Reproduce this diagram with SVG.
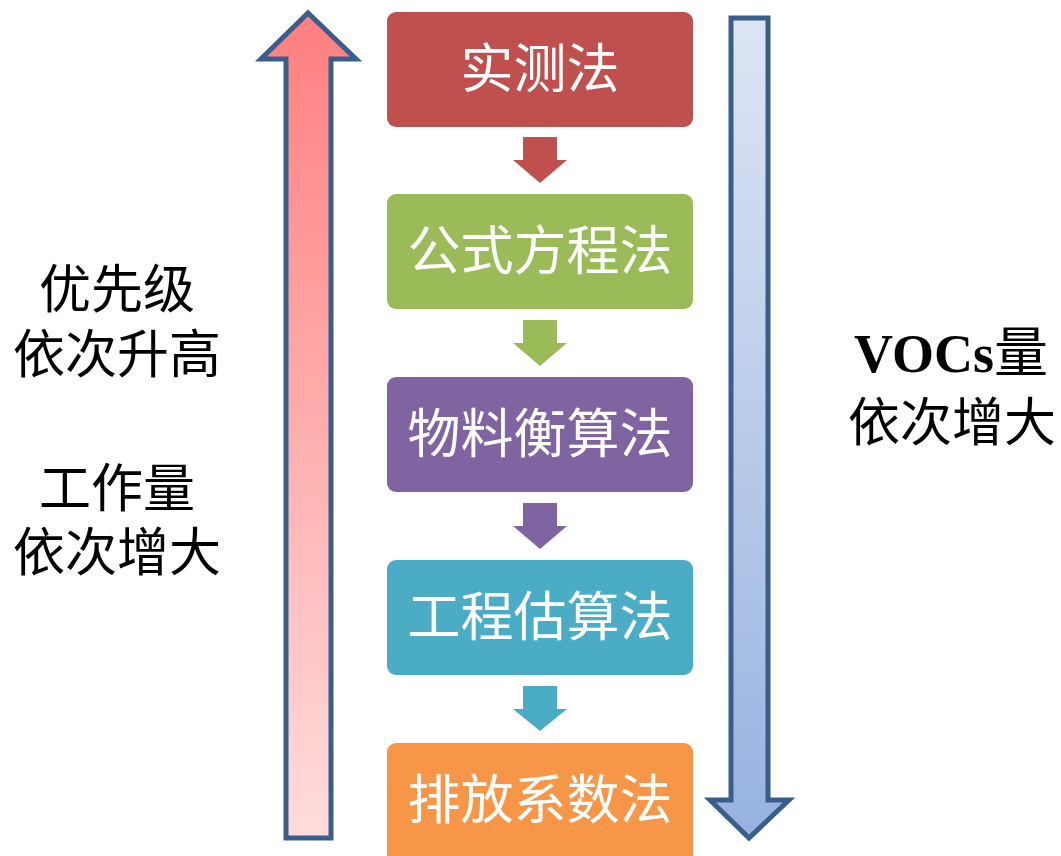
<svg xmlns="http://www.w3.org/2000/svg" width="1061" height="856" viewBox="0 0 1061 856">
<defs>
<linearGradient id="gl" x1="0" y1="0" x2="0" y2="1"><stop offset="0" stop-color="#FF7F7F"/><stop offset="1" stop-color="#FFDCDC"/></linearGradient>
<linearGradient id="gr" x1="0" y1="0" x2="0" y2="1"><stop offset="0" stop-color="#DDE5F4"/><stop offset="1" stop-color="#97B2E0"/></linearGradient>
<style>
.big{stroke:#3A5E8C;stroke-width:5;stroke-linejoin:miter}
.bt{fill:#fff;font-family:"Noto Sans CJK SC",sans-serif;font-size:53px;text-anchor:middle}
.lt{fill:#000;font-family:"Noto Sans CJK SC",sans-serif;font-size:52px;text-anchor:middle}
</style>
</defs>
<g id="priority-arrow"><path class="big" fill="url(#gl)" d="M286,838 L286,59 L261,59 L308,13 L356,59 L331,59 L331,838 Z"/></g>
<g id="vocs-arrow"><path class="big" fill="url(#gr)" d="M731,18 L768,18 L768,800 L789,800 L749,838 L710,800 L731,800 Z"/></g>
<g id="n1"><rect x="387" y="12" width="306" height="115" rx="9" fill="#C0504D"/><text class="bt" x="540" y="88">实测法</text></g>
<g id="n2"><rect x="387" y="194" width="306" height="115" rx="9" fill="#9BBB59"/><text class="bt" x="540" y="270">公式方程法</text></g>
<g id="n3"><rect x="387" y="377" width="306" height="115" rx="9" fill="#8064A2"/><text class="bt" x="540" y="453">物料衡算法</text></g>
<g id="n4"><rect x="387" y="560" width="306" height="115" rx="9" fill="#4BACC6"/><text class="bt" x="540" y="636">工程估算法</text></g>
<g id="n5"><rect x="387" y="743" width="306" height="125" rx="9" fill="#F79646"/><text class="bt" x="540" y="819">排放系数法</text></g>
<g id="connectors">
<path fill="#C0504D" d="M523,137 H557 V160 H567 L540,183 L513,160 H523 Z"/>
<path fill="#9BBB59" d="M523,320 H557 V343 H567 L540,366 L513,343 H523 Z"/>
<path fill="#8064A2" d="M523,503 H557 V526 H567 L540,549 L513,526 H523 Z"/>
<path fill="#4BACC6" d="M523,686 H557 V709 H567 L540,731 L513,709 H523 Z"/>
</g>
<g id="left-labels">
<text class="lt" x="117" y="308">优先级</text>
<text class="lt" x="117" y="373">依次升高</text>
<text class="lt" x="117" y="507">工作量</text>
<text class="lt" x="117" y="571">依次增大</text>
</g>
<g id="right-labels">
<text x="951" y="372" text-anchor="middle" font-size="54" font-family="'Liberation Serif','Noto Sans CJK SC',serif" font-weight="bold">VOCs<tspan font-family="'Noto Sans CJK SC',sans-serif" font-weight="normal">量</tspan></text>
<text class="lt" x="952" y="441">依次增大</text>
</g>
</svg>
